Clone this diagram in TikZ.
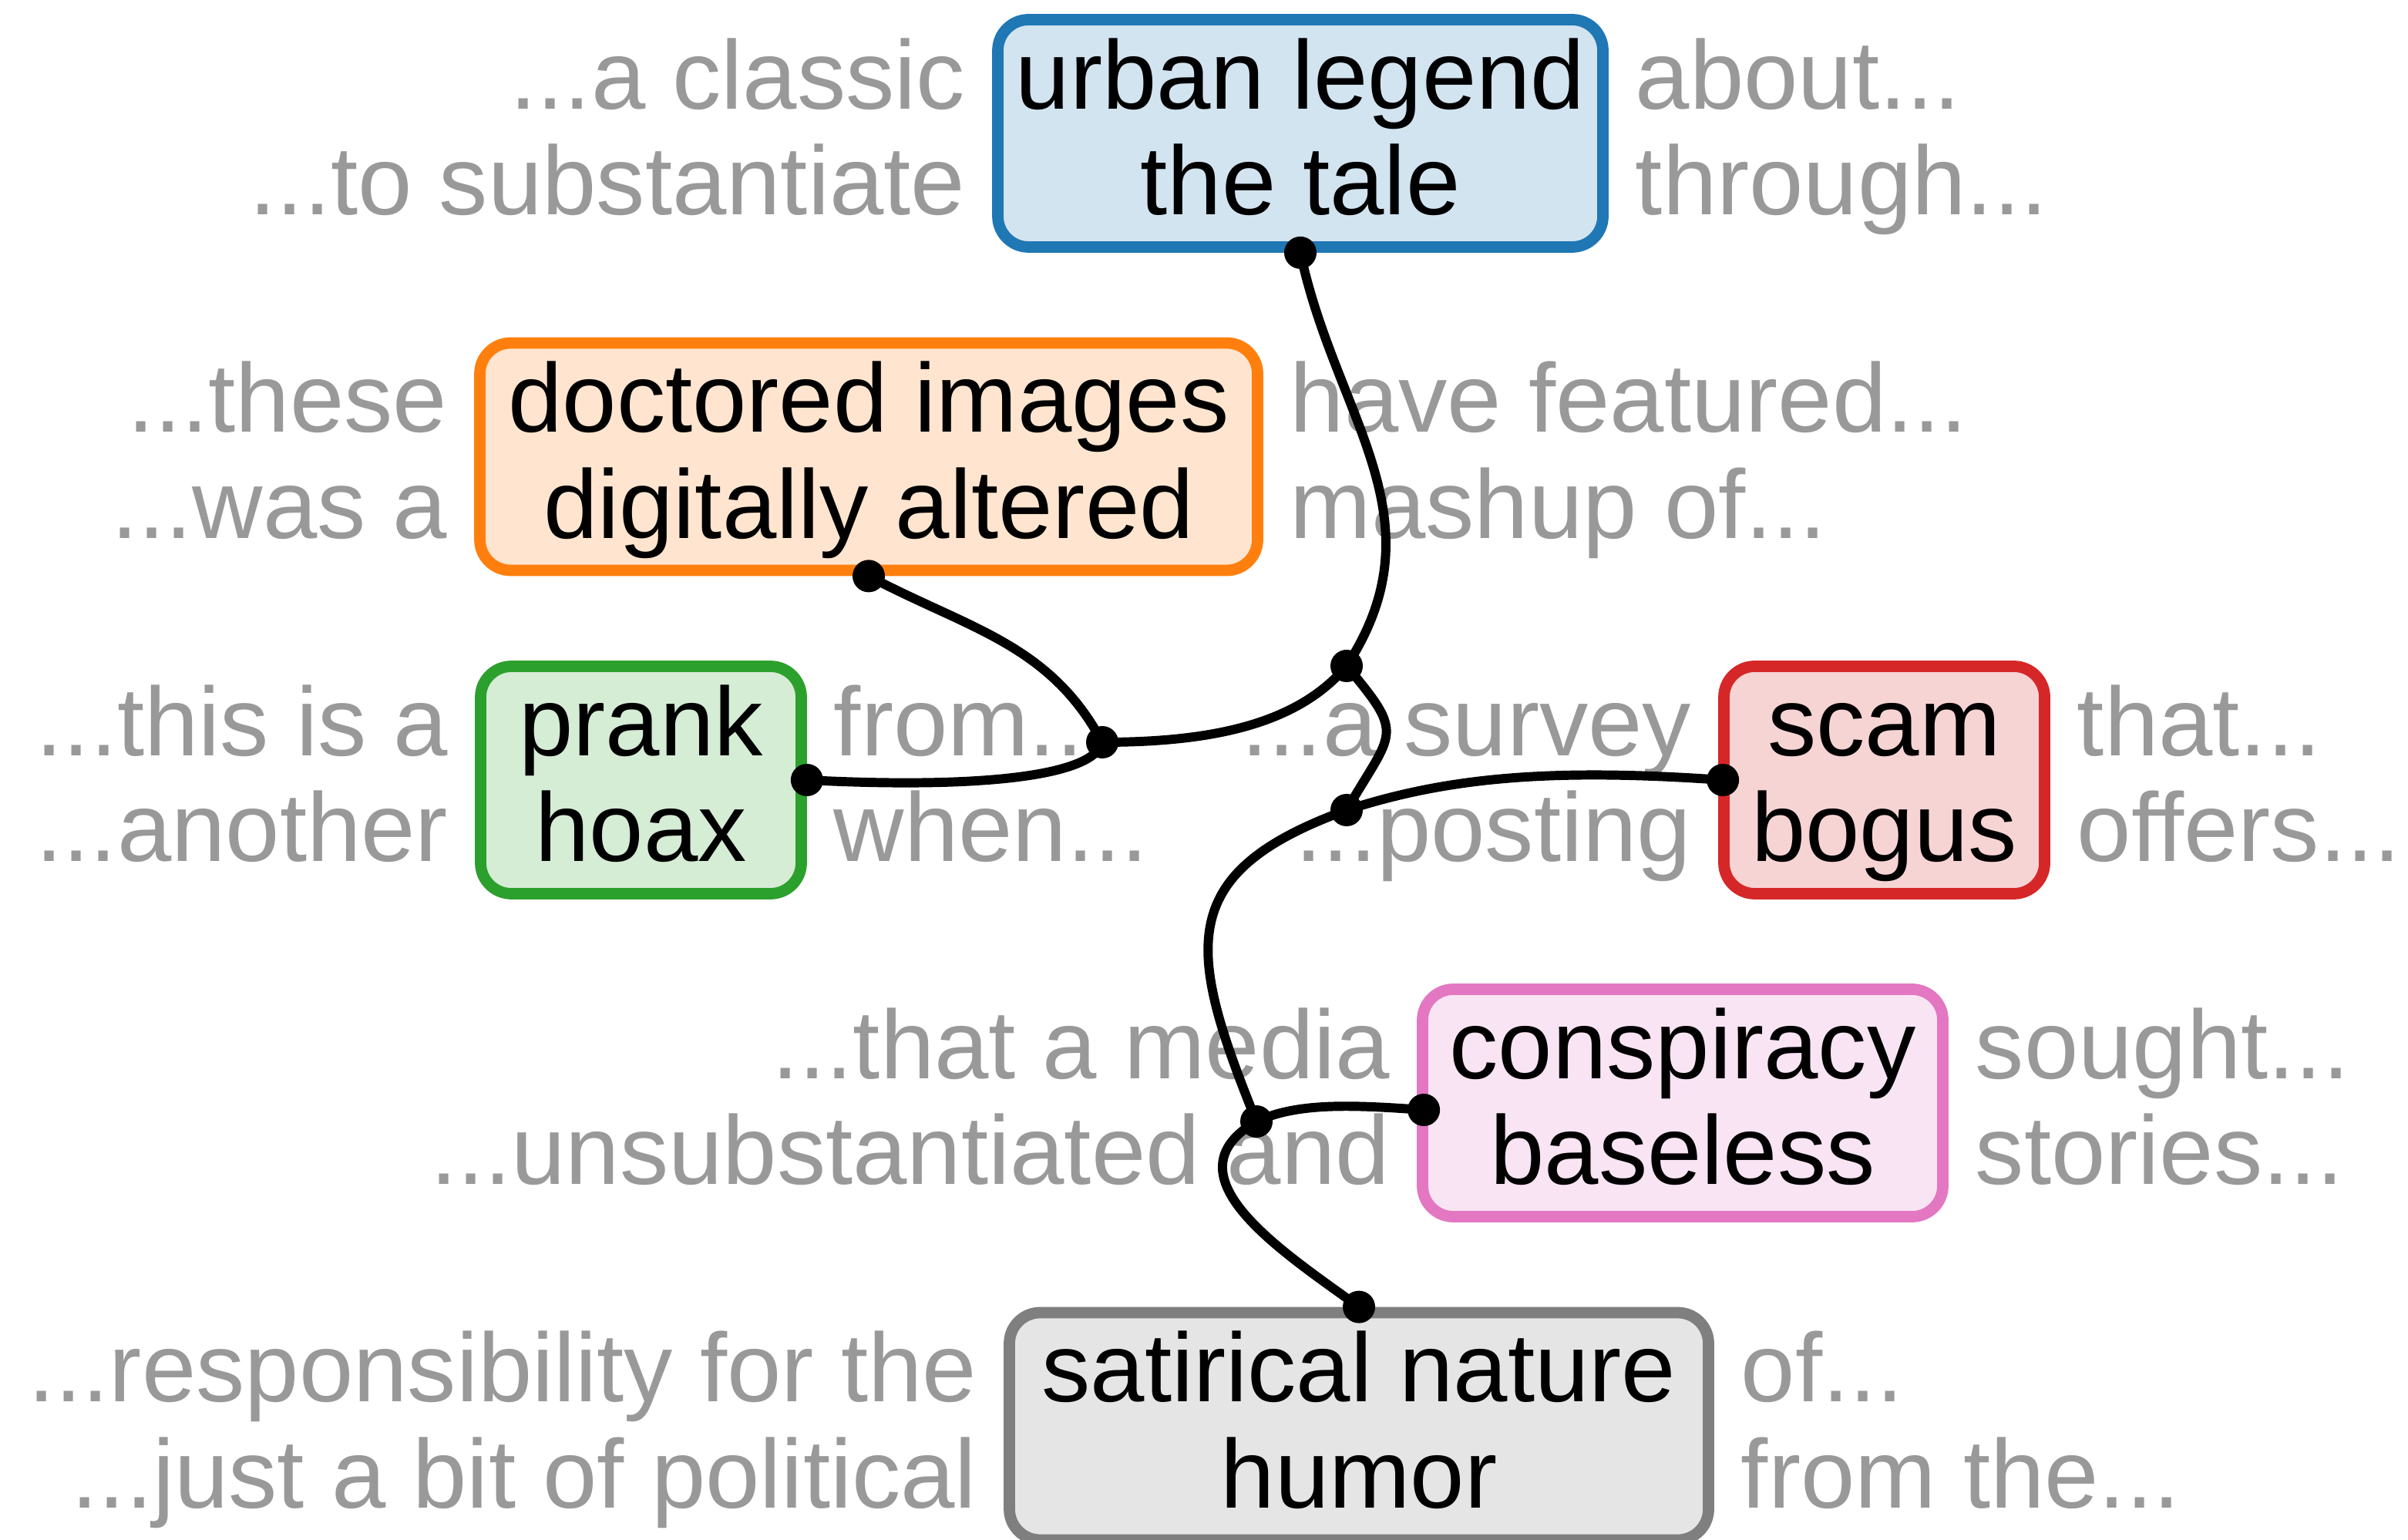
\documentclass[tikz,border=0pt]{standalone}
\usepackage{fontspec}
\setmainfont{Liberation Sans}
\usepackage{tikz}
\usetikzlibrary{positioning}
\definecolor{tabblue}{HTML}{1F77B4}
\definecolor{taborange}{HTML}{FF7F0E}
\definecolor{tabgreen}{HTML}{2CA02C}
\definecolor{tabred}{HTML}{D62728}
\definecolor{tabpink}{HTML}{E377C2}
\definecolor{tabgray}{HTML}{7F7F7F}
\definecolor{ctxgray}{HTML}{999999}
\newcommand{\twoline}[2]{\rule{0pt}{28.9pt}#1\\#2\rule[-7.8pt]{0pt}{7.8pt}}
\tikzset{
	node distance=0.35cm,
	word/.style = {font=\fontsize{36}{39.2}\selectfont, align=center},
	box/.style = {word, draw=#1, fill=#1!20, line width=4.2pt, rounded corners=0.4cm, minimum height=2.95cm, inner sep=0pt},
	ctx/.style = {word, text=ctxgray, inner sep=0pt, outer sep=0pt},
	dot/.style = {circle, fill=black, inner sep=0pt, minimum size=0.42cm},
	link/.style = {line width=3.4pt}
}

\begin{document}
\begin{tikzpicture}
	\useasboundingbox (0,0) rectangle (31.24,19.97);
	\node[box=tabblue, minimum width=7.85cm] (legend) at (16.87,18.24) {\twoline{urban legend}{the tale}};
	\node[box=taborange, minimum width=10.09cm] (doctored) at (11.27,14.045) {\twoline{doctored images}{digitally altered}};
	\node[box=tabgreen, minimum width=4.16cm] (prank) at (8.315,9.85) {\twoline{prank}{hoax}};
	\node[box=tabred, minimum width=4.16cm] (scam) at (24.445,9.85) {\twoline{scam}{bogus}};
	\node[box=tabpink, minimum width=6.75cm] (conspiracy) at (21.83,5.66) {\twoline{conspiracy}{baseless}};
	\node[box=tabgray, minimum width=9.07cm] (satirical) at (17.63,1.465) {\twoline{satirical nature}{humor}};
	\node[ctx, align=right, base left=of legend] (legendL) {...a classic\\...to substantiate};
	\node[ctx, align=left, base right=of legend] (legendR) {about...\\through...};
	\node[ctx, align=right, base left=of doctored] (doctoredL) {...these\\...was a};
	\node[ctx, align=left, base right=of doctored] (doctoredR) {have featured...\\mashup of...};
	\node[ctx, align=right, base left=of prank] (prankL) {...this is a\\...another};
	\node[ctx, align=left, base right=of prank] (prankR) {from...\\when...};
	\node[ctx, align=right, base left=of scam] (scamL) {...a survey\\...posting};
	\node[ctx, align=left, base right=of scam] (scamR) {that...\\offers...};
	\node[ctx, align=right, base left=of conspiracy] (conspiracyL) {...that a media\\...unsubstantiated and};
	\node[ctx, align=left, base right=of conspiracy] (conspiracyR) {sought...\\stories...};
	\node[ctx, align=right, base left=of satirical] (satiricalL) {...responsibility for the\\...just a bit of political};
	\node[ctx, align=left, base right=of satirical] (satiricalR) {of...\\from the...};
	\node[dot] (a) at (legend.south) {};
	\node[dot] (b) at (doctored.south) {};
	\node[dot] (c) at (prank.east) {};
	\node[dot] (f) at ([xshift=0.06cm]scam.west) {};
	\node[dot] (h) at ([shift={(0.09cm,-0.09cm)}]conspiracy.west) {};
	\node[dot] (j) at (satirical.north) {};
	\node[dot] (d) at (14.30,10.34) {};
	\node[dot] (e) at (17.47,11.33) {};
	\node[dot] (g) at (17.47,9.46) {};
	\node[dot] (i) at (16.30,5.42) {};
	\draw[link] (a.center) to[out=-78, in=57, out distance=2.2cm, in distance=2.3cm] (e.center);
	\draw[link] (b.center) to[out=-28, in=118] (d.center);
	\draw[link] (c.center) to[out=-3, in=-105, out distance=2cm, in distance=0.5cm] (d.center);
	\draw[link] (d.center) to[out=0, in=-130, out distance=1.4cm, in distance=1cm] (e.center);
	\draw[link] (e.center) to[out=-50, in=60, out distance=1.2cm, in distance=1.2cm] (g.center);
	\draw[link] (f.center) to[out=176, in=18, out distance=2.2cm, in distance=1.4cm] (g.center);
	\draw[link] (g.center) to[out=200, in=112, out distance=2.4cm, in distance=2.4cm] (i.center);
	\draw[link] (h.center) to[out=176, in=25, out distance=0.9cm, in distance=0.6cm] (i.center);
	\draw[link] (i.center) to[out=-150, in=144, out distance=1.4cm, in distance=1.2cm] (j.center);
\end{tikzpicture}
\end{document}
